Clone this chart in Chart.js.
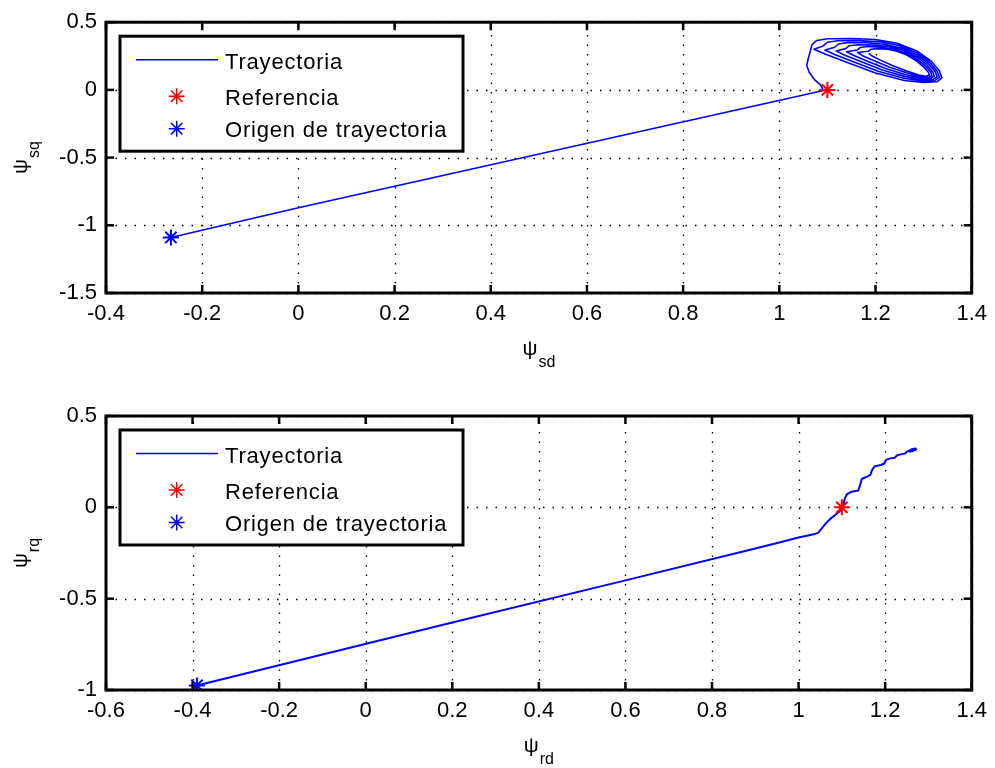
<!DOCTYPE html>
<html><head><meta charset="utf-8">
<script src="https://cdn.jsdelivr.net/npm/chart.js@4.4.0/dist/chart.umd.min.js"></script>
<style>
html,body{margin:0;padding:0;background:#fff;}
#wrap{position:relative;width:995px;height:768px;background:#fff;}
canvas{position:absolute;left:0;}
</style></head><body>
<div id="wrap">
<canvas id="c1" width="995" height="384" style="top:0px"></canvas>
<canvas id="c2" width="995" height="384" style="top:384px"></canvas>
</div>
<script>
// ---------- data ----------
const legendLabels = ['Trayectoria', 'Referencia', 'Origen de trayectoria'];

const topXTicks = [-0.4, -0.2, 0, 0.2, 0.4, 0.6, 0.8, 1, 1.2, 1.4];
const topYTicks = [-1.5, -1, -0.5, 0, 0.5];
const botXTicks = [-0.6, -0.4, -0.2, 0, 0.2, 0.4, 0.6, 0.8, 1, 1.2, 1.4];
const botYTicks = [-1, -0.5, 0, 0.5];

// top plot: psi_sd vs psi_sq
const topApproachX = [-0.265, 0.0, 1.092, 1.086, 1.072, 1.062, 1.057, 1.06, 1.064];
const topApproachY = [-1.09, -0.87, -0.005, 0.035, 0.08, 0.13, 0.18, 0.23, 0.28];
const topLoopX = [
  1.068, 1.078, 1.10, 1.15, 1.20, 1.245, 1.285, 1.315, 1.333, 1.338, 1.328, 1.30, 1.26, 1.20, 1.14, 1.095, 1.072,
  1.091, 1.10, 1.121, 1.165, 1.209, 1.249, 1.285, 1.312, 1.328, 1.333, 1.323, 1.298, 1.261, 1.207, 1.154, 1.115, 1.095,
  1.115, 1.123, 1.142, 1.18, 1.218, 1.253, 1.285, 1.309, 1.324, 1.328, 1.319, 1.296, 1.262, 1.214, 1.168, 1.134, 1.118,
  1.138, 1.145, 1.163, 1.195, 1.227, 1.257, 1.285, 1.306, 1.319, 1.322, 1.314, 1.294, 1.263, 1.221, 1.182, 1.154, 1.14,
  1.162, 1.168, 1.184, 1.21, 1.236, 1.261, 1.285, 1.303, 1.315, 1.317, 1.31, 1.292, 1.264, 1.228, 1.196, 1.173, 1.163,
  1.185, 1.19, 1.205, 1.225, 1.245, 1.265, 1.285, 1.30, 1.31, 1.312, 1.305, 1.29, 1.265, 1.235, 1.21, 1.193, 1.186];
const topLoopY = [
  0.335, 0.365, 0.378, 0.38, 0.372, 0.345, 0.29, 0.215, 0.14, 0.09, 0.06, 0.055, 0.07, 0.125, 0.205, 0.265, 0.30,
  0.325, 0.352, 0.363, 0.364, 0.355, 0.328, 0.275, 0.206, 0.138, 0.094, 0.068, 0.066, 0.084, 0.136, 0.208, 0.262, 0.294,
  0.315, 0.339, 0.349, 0.348, 0.337, 0.31, 0.26, 0.197, 0.136, 0.098, 0.076, 0.077, 0.098, 0.147, 0.211, 0.259, 0.288,
  0.305, 0.326, 0.334, 0.332, 0.32, 0.293, 0.245, 0.188, 0.134, 0.102, 0.084, 0.088, 0.112, 0.158, 0.214, 0.256, 0.282,
  0.295, 0.313, 0.32, 0.316, 0.302, 0.275, 0.23, 0.179, 0.132, 0.106, 0.092, 0.099, 0.126, 0.169, 0.217, 0.253, 0.276,
  0.285, 0.30, 0.305, 0.30, 0.285, 0.258, 0.215, 0.17, 0.13, 0.11, 0.10, 0.11, 0.14, 0.18, 0.22, 0.25, 0.27];
const topReference = [1.1, 0];
const topOrigin = [-0.265, -1.09];

// bottom plot: psi_rd vs psi_rq
const botTrajX = [-0.39, 0.2, 0.6, 0.9, 0.96, 1.0, 1.035, 1.045, 1.052, 1.062, 1.075, 1.088, 1.1, 1.104,
  1.107, 1.112, 1.122, 1.138, 1.142, 1.146, 1.158, 1.166, 1.17, 1.176, 1.19, 1.198, 1.202, 1.212,
  1.222, 1.228, 1.236, 1.246, 1.25, 1.256, 1.262, 1.27, 1.266, 1.258, 1.264, 1.272, 1.268];
const botTrajY = [-0.975, -0.63, -0.40, -0.225, -0.19, -0.165, -0.147, -0.14, -0.12, -0.09, -0.06, -0.035, -0.012, 0.02,
  0.05, 0.072, 0.085, 0.092, 0.12, 0.155, 0.168, 0.178, 0.205, 0.225, 0.232, 0.24, 0.26, 0.268,
  0.272, 0.285, 0.29, 0.295, 0.305, 0.31, 0.318, 0.322, 0.31, 0.305, 0.32, 0.318, 0.312];
const botReference = [1.1, 0];
const botOrigin = [-0.39, -0.975];

// ---------- drawing ----------
const FONT = '"Liberation Sans", Arial, Helvetica, sans-serif';
const fmt = v => String(parseFloat(Number(v).toFixed(1)));

const matlabPlugin = {
  id: 'matlab',
  beforeDatasetsDraw(chart, args, opts) {
    const {ctx, chartArea: a, scales: {x, y}} = chart;
    ctx.save();
    ctx.strokeStyle = '#000';
    ctx.lineWidth = 1.3;
    ctx.setLineDash([1.5, 8]);
    opts.xTicks.forEach(v => {
      const px = Math.round(x.getPixelForValue(v)) + 0.5;
      ctx.beginPath(); ctx.moveTo(px, a.bottom); ctx.lineTo(px, a.top); ctx.stroke();
    });
    opts.yTicks.forEach(v => {
      const py = Math.round(y.getPixelForValue(v)) + 0.5;
      ctx.beginPath(); ctx.moveTo(a.left, py); ctx.lineTo(a.right, py); ctx.stroke();
    });
    ctx.restore();
  },
  afterDatasetsDraw(chart, args, opts) {
    const {ctx, chartArea: a, scales: {x, y}} = chart;
    ctx.save();
    ctx.setLineDash([]);
    ctx.strokeStyle = '#000';
    ctx.lineWidth = 2.5;
    opts.xTicks.forEach(v => {
      const px = x.getPixelForValue(v);
      ctx.beginPath(); ctx.moveTo(px, a.bottom); ctx.lineTo(px, a.bottom - 8); ctx.stroke();
      ctx.beginPath(); ctx.moveTo(px, a.top); ctx.lineTo(px, a.top + 8); ctx.stroke();
    });
    opts.yTicks.forEach(v => {
      const py = y.getPixelForValue(v);
      ctx.beginPath(); ctx.moveTo(a.left, py); ctx.lineTo(a.left + 8, py); ctx.stroke();
      ctx.beginPath(); ctx.moveTo(a.right, py); ctx.lineTo(a.right - 8, py); ctx.stroke();
    });
    ctx.lineWidth = 3;
    ctx.strokeRect(a.left, a.top, a.width, a.height);

    // legend
    const L = a.left + 14, T = a.top + 14, W = 343, H = 115;
    ctx.fillStyle = '#fff';
    ctx.fillRect(L, T, W, H);
    ctx.lineWidth = 3;
    ctx.strokeStyle = '#000';
    ctx.strokeRect(L, T, W, H);
    const ds = chart.data.datasets;
    ctx.strokeStyle = ds[0].borderColor;
    ctx.lineWidth = 1.5;
    ctx.beginPath(); ctx.moveTo(L + 16, T + 23.5); ctx.lineTo(L + 98, T + 23.5); ctx.stroke();
    [[1, T + 60], [2, T + 92.5]].forEach(([i, yy]) => {
      ctx.strokeStyle = ds[i].borderColor;
      ctx.fillStyle = ds[i].backgroundColor;
      Chart.helpers.drawPoint(ctx, {pointStyle: 'star', radius: 8, borderWidth: 2, rotation: 0}, L + 56.7, yy);
    });
    ctx.fillStyle = '#000';
    ctx.font = '22px ' + FONT;
    ctx.textAlign = 'left';
    ctx.textBaseline = 'alphabetic';
    try { ctx.letterSpacing = '0.8px'; } catch (e) {}
    ctx.fillText(ds[0].label, L + 105, T + 33);
    ctx.fillText(ds[1].label, L + 105, T + 69);
    ctx.fillText(ds[2].label, L + 105, T + 101);
    ctx.restore();
  },
  afterDraw(chart, args, opts) {
    const {ctx, chartArea: a} = chart;
    ctx.save();
    ctx.fillStyle = '#000';
    ctx.textAlign = 'left';
    ctx.textBaseline = 'alphabetic';
    const mainFont = '21px ' + FONT, subFont = '16px ' + FONT;
    ctx.font = mainFont; const w1 = ctx.measureText(opts.xLabel[0]).width;
    ctx.font = subFont; const w2 = ctx.measureText(opts.xLabel[1]).width;
    let sx = (a.left + a.right) / 2 - (w1 + w2 + 1) / 2;
    ctx.font = mainFont; ctx.fillText(opts.xLabel[0], sx, a.bottom + 62);
    ctx.font = subFont; ctx.fillText(opts.xLabel[1], sx + w1 + 1, a.bottom + 74);
    ctx.font = mainFont; const v1 = ctx.measureText(opts.yLabel[0]).width;
    ctx.font = subFont; const v2 = ctx.measureText(opts.yLabel[1]).width;
    ctx.translate(0, (a.top + a.bottom) / 2);
    ctx.rotate(-Math.PI / 2);
    const sy = -(v1 + v2 + 1) / 2;
    ctx.font = mainFont; ctx.fillText(opts.yLabel[0], sy, 27);
    ctx.font = subFont; ctx.fillText(opts.yLabel[1], sy + v1 + 1, 39);
    ctx.restore();
  }
};

function makeChart(canvas, cfg) {
  const pts = cfg.trajX.map((xv, i) => ({x: xv, y: cfg.trajY[i]}));
  return new Chart(canvas, {
    type: 'scatter',
    data: {
      datasets: [
        {label: legendLabels[0], data: pts, showLine: true, borderColor: '#0000ff', backgroundColor: '#0000ff',
         borderWidth: cfg.lineW, borderJoinStyle: 'round', pointRadius: 0, pointHoverRadius: 0, tension: 0, order: 3},
        {label: legendLabels[1], data: [{x: cfg.ref[0], y: cfg.ref[1]}], showLine: false, pointStyle: 'star',
         pointRadius: 8, borderColor: '#ff0000', backgroundColor: '#ff0000', borderWidth: 2, pointBorderWidth: 2, order: 2},
        {label: legendLabels[2], data: [{x: cfg.orig[0], y: cfg.orig[1]}], showLine: false, pointStyle: 'star',
         pointRadius: 8, borderColor: '#0000ff', backgroundColor: '#0000ff', borderWidth: 2, pointBorderWidth: 2, order: 1}
      ]
    },
    options: {
      responsive: false, animation: false, events: [],
      layout: {padding: {top: cfg.padTop, right: 22, left: 0, bottom: 0}},
      plugins: {
        legend: {display: false}, tooltip: {enabled: false},
        matlab: {xTicks: cfg.xTicks, yTicks: cfg.yTicks, xLabel: cfg.xLabel, yLabel: cfg.yLabel}
      },
      scales: {
        x: {
          type: 'linear', position: 'bottom',
          min: cfg.xTicks[0], max: cfg.xTicks[cfg.xTicks.length - 1],
          afterBuildTicks: s => { s.ticks = cfg.xTicks.map(v => ({value: v})); },
          afterFit: s => { s.height = cfg.xAxisH; },
          grid: {display: false, drawTicks: false},
          border: {display: false},
          ticks: {font: {family: FONT, size: 22}, color: '#000', padding: 8, maxRotation: 0, autoSkip: false, callback: v => fmt(v)}
        },
        y: {
          type: 'linear', position: 'left',
          min: cfg.yTicks[0], max: cfg.yTicks[cfg.yTicks.length - 1],
          afterBuildTicks: s => { s.ticks = cfg.yTicks.map(v => ({value: v})); },
          afterFit: s => { s.width = 106; },
          grid: {display: false, drawTicks: false},
          border: {display: false},
          ticks: {font: {family: FONT, size: 22}, color: '#000', padding: 9, autoSkip: false, callback: v => fmt(v)}
        }
      }
    },
    plugins: [matlabPlugin]
  });
}

makeChart(document.getElementById('c1'), {
  trajX: topApproachX.concat(topLoopX), trajY: topApproachY.concat(topLoopY),
  ref: topReference, orig: topOrigin, lineW: 1.6,
  xTicks: topXTicks, yTicks: topYTicks, padTop: 17, xAxisH: 91,
  xLabel: ['\u03C8', 'sd'], yLabel: ['\u03C8', 'sq']
});
makeChart(document.getElementById('c2'), {
  trajX: botTrajX, trajY: botTrajY,
  ref: botReference, orig: botOrigin, lineW: 2,
  xTicks: botXTicks, yTicks: botYTicks, padTop: 32, xAxisH: 78,
  xLabel: ['\u03C8', 'rd'], yLabel: ['\u03C8', 'rq']
});
</script>
</body></html>
